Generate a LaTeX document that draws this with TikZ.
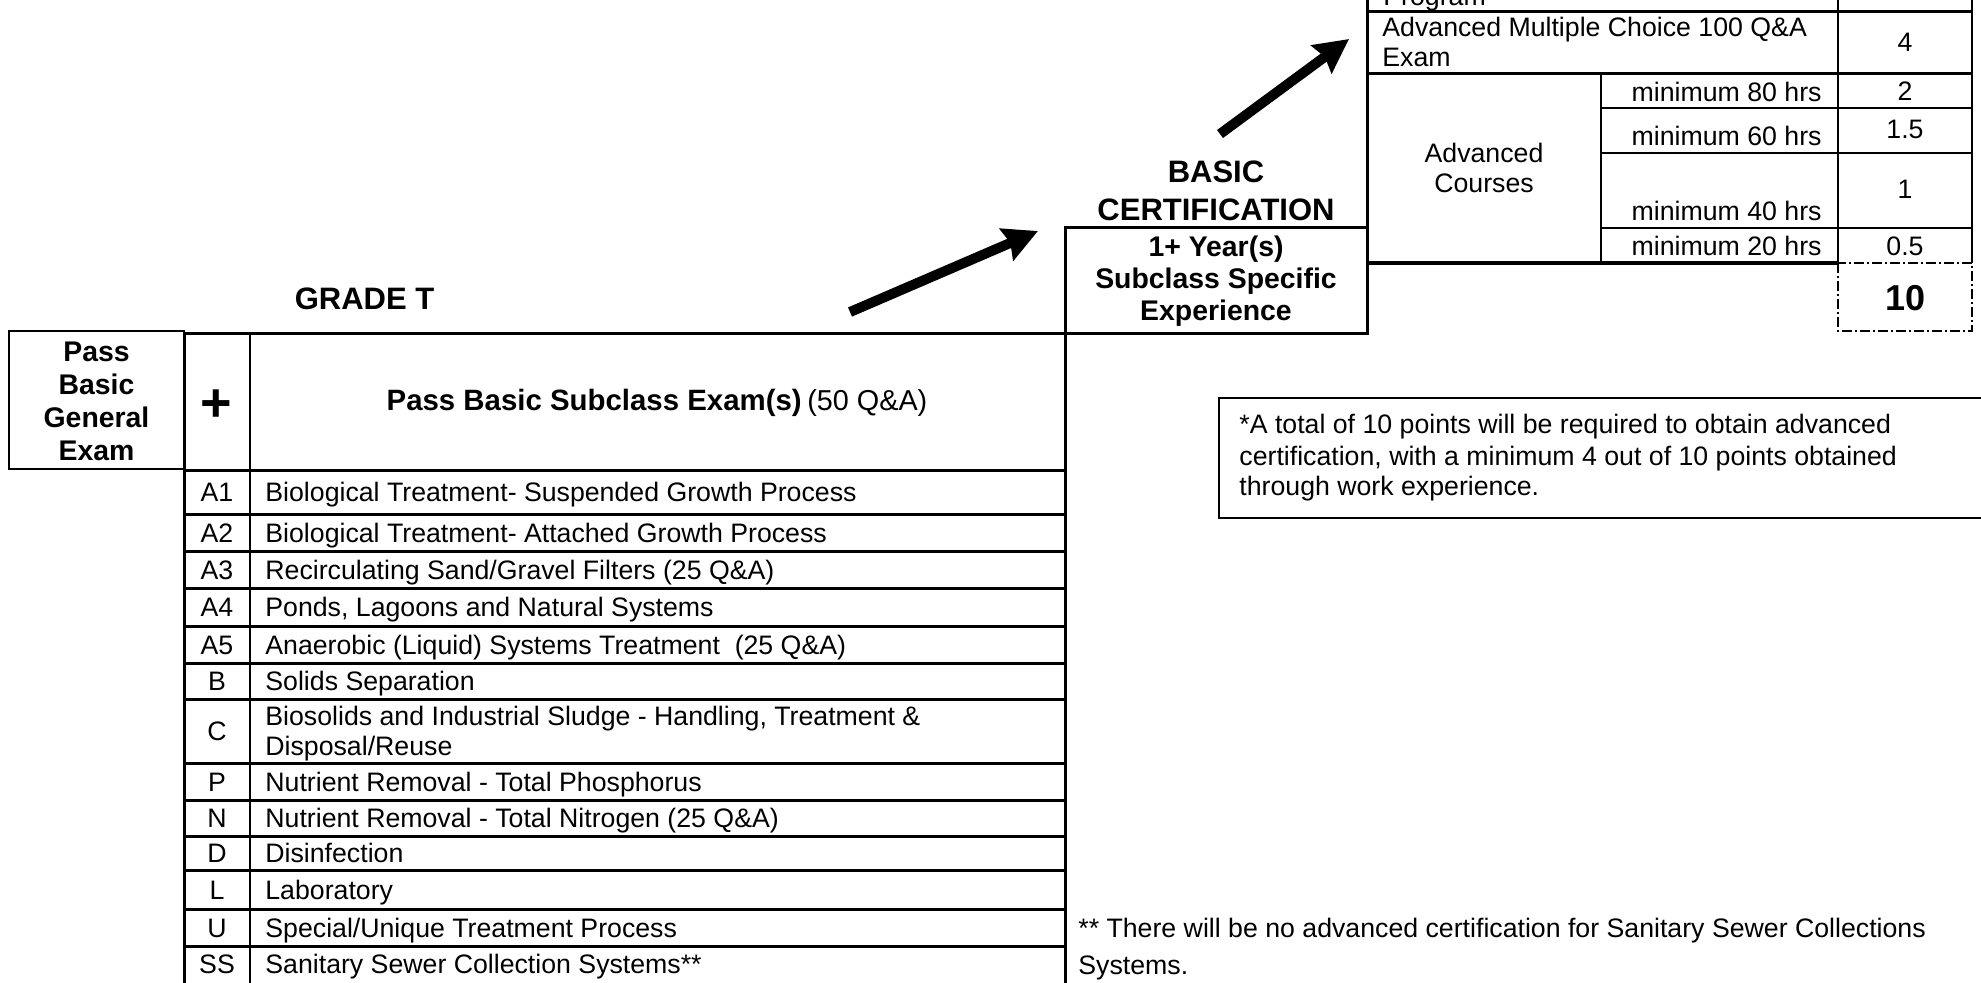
\documentclass[tikz,border=0pt]{standalone}
\usepackage{fontspec}
\setmainfont{Liberation Sans}
\usetikzlibrary{arrows.meta}
\tikzset{
  tl/.style={line width=1.5pt},
  bl/.style={line width=1pt},
  txt/.style={inner sep=0pt, font=\fontsize{13.35}{15.4}\selectfont},
  btxt/.style={inner sep=0pt, font=\fontsize{14.2}{16.4}\selectfont\bfseries},
  ttl/.style={inner sep=0pt, font=\fontsize{15.5}{18}\selectfont\bfseries},
  bigarrow/.style={line width=5pt, -{Stealth[length=17pt,width=17pt,inset=2pt]}},
  dashdotbox/.style={line width=1pt, dash pattern=on 5pt off 1.5pt on 1pt off 1.5pt},
}
\begin{document}
\begin{tikzpicture}[x=0.5pt,y=-0.5pt]
\useasboundingbox (0,0) rectangle (1981,982);
\fill[white] (0,0) rectangle (1981,982);

% ---------- Pass Basic General Exam box
\draw[bl] (9,331) rectangle (184,469);
\node[btxt, anchor=base] (pass1) at (96.5,361) {Pass};
\node[btxt, anchor=base] (pass2) at (96.5,394) {Basic};
\node[btxt, anchor=base] (pass3) at (96.5,427) {General};
\node[btxt, anchor=base] (pass4) at (96.5,460) {Exam};

% ---------- main table
\draw[tl] (184,333) -- (1367,333);
\draw[tl] (184,470) -- (1065,470);
\foreach \yy in {514,551,588,626,663,699,763,800,836,870,909,946}
  \draw[tl] (184,\yy) -- (1065,\yy);
\draw[tl] (184,333) -- (184,990);
\draw[bl] (250,333) -- (250,990);
\draw[tl] (1065,227) -- (1065,990);

\node[inner sep=0pt, font=\fontsize{27}{28}\selectfont\bfseries] (plus) at (216,406) {+};
\node[inner sep=0pt, anchor=base] (hdr) at (657,410)
  {{\fontsize{14.7}{17}\selectfont\bfseries Pass Basic Subclass Exam(s)} {\fontsize{14.4}{16}\selectfont (50 Q\&A)}};

\node[txt, anchor=base] (ca1) at (217,501.5) {A1};
\node[txt, anchor=base west] (ta1) at (265,501.5) {Biological Treatment- Suspended Growth Process};
\node[txt, anchor=base] (ca2) at (217,542) {A2};
\node[txt, anchor=base west] (ta2) at (265,542) {Biological Treatment- Attached Growth Process};
\node[txt, anchor=base] (ca3) at (217,579) {A3};
\node[txt, anchor=base west] (ta3) at (265,579) {Recirculating Sand/Gravel Filters (25 Q\&A)};
\node[txt, anchor=base] (ca4) at (217,616.5) {A4};
\node[txt, anchor=base west] (ta4) at (265,616.5) {Ponds, Lagoons and Natural Systems};
\node[txt, anchor=base] (ca5) at (217,654) {A5};
\node[txt, anchor=base west] (ta5) at (265,654) {Anaerobic (Liquid) Systems Treatment\ \ (25 Q\&A)};
\node[txt, anchor=base] (cb) at (217,690.5) {B};
\node[txt, anchor=base west] (tb) at (265,690.5) {Solids Separation};
\node[txt, anchor=base] (cc) at (217,740.5) {C};
\node[txt, anchor=base west] (tc1) at (265,725.5) {Biosolids and Industrial Sludge - Handling, Treatment \&};
\node[txt, anchor=base west] (tc2) at (265,755.5) {Disposal/Reuse};
\node[txt, anchor=base] (cp) at (217,791) {P};
\node[txt, anchor=base west] (tp) at (265,791) {Nutrient Removal - Total Phosphorus};
\node[txt, anchor=base] (cn) at (217,827.5) {N};
\node[txt, anchor=base west] (tn) at (265,827.5) {Nutrient Removal - Total Nitrogen (25 Q\&A)};
\node[txt, anchor=base] (cd) at (217,862.5) {D};
\node[txt, anchor=base west] (td) at (265,862.5) {Disinfection};
\node[txt, anchor=base] (cl) at (217,899) {L};
\node[txt, anchor=base west] (tl1) at (265,899) {Laboratory};
\node[txt, anchor=base] (cu) at (217,937) {U};
\node[txt, anchor=base west] (tu) at (265,937) {Special/Unique Treatment Process};
\node[txt, anchor=base] (css) at (217,973.5) {SS};
\node[txt, anchor=base west] (tss) at (265,973.5) {Sanitary Sewer Collection Systems**};

% ---------- GRADE T
\node[ttl, anchor=base] (grade) at (364.5,309) {GRADE T};

% ---------- Basic certification / experience
\node[ttl, anchor=base] (basic) at (1216,182.5) {BASIC};
\node[ttl, anchor=base] (cert) at (1216,220) {CERTIFICATION};
\draw[tl] (1065,227) rectangle (1367,333);
\node[btxt, anchor=base] (exp1) at (1216,256) {1+ Year(s)};
\node[btxt, anchor=base] (exp2) at (1216,288.5) {Subclass Specific};
\node[btxt, anchor=base] (exp3) at (1216,320.5) {Experience};

% ---------- advanced table
\draw[tl] (1367,-10) -- (1367,333);
\draw[bl] (1838,-10) -- (1838,263);
\draw[bl] (1972,-10) -- (1972,263);
\draw[bl] (1601,73) -- (1601,263);
\draw[tl] (1367,11) -- (1972,11);
\draw[tl] (1367,73) -- (1972,73);
\draw[bl] (1601,108) -- (1972,108);
\draw[bl] (1601,153) -- (1972,153);
\draw[bl] (1601,228) -- (1972,228);
\draw[line width=2pt] (1367,263) -- (1838,263);
\draw[dashdotbox] (1838,263) rectangle (1972,331);

\node[txt, anchor=base west] (prog) at (1383,5) {Program};
\node[txt, anchor=base west] (amc1) at (1382,36.5) {Advanced Multiple Choice 100 Q\&A};
\node[txt, anchor=base west] (amc2) at (1382,66) {Exam};
\node[txt, anchor=base] (p4) at (1905,51.7) {4};
\node[txt, anchor=base] (advc1) at (1484,162.7) {Advanced};
\node[txt, anchor=base] (advc2) at (1484,192.7) {Courses};
\node[txt, anchor=base east] (m80) at (1822,101) {minimum 80 hrs};
\node[txt, anchor=base] (p2) at (1905,100) {2};
\node[txt, anchor=base east] (m60) at (1822,145) {minimum 60 hrs};
\node[txt, anchor=base] (p15) at (1905,138) {1.5};
\node[txt, anchor=base east] (m40) at (1822,220) {minimum 40 hrs};
\node[txt, anchor=base] (p1) at (1905,198) {1};
\node[txt, anchor=base east] (m20) at (1822,255) {minimum 20 hrs};
\node[txt, anchor=base] (p05) at (1905,255) {0.5};
\node[inner sep=0pt, font=\fontsize{18}{21}\selectfont\bfseries, anchor=base] (tot) at (1905,310) {10};

% ---------- note box
\draw[bl] (1219,398) rectangle (2010,518);
\node[txt, anchor=base west] (note1) at (1239,433.3) {*A total of 10 points will be required to obtain advanced};
\node[txt, anchor=base west] (note2) at (1239,465) {certification, with a minimum 4 out of 10 points obtained};
\node[txt, anchor=base west] (note3) at (1239,495) {through work experience.};

% ---------- footnote
\node[txt, anchor=base west] (foot1) at (1078,937) {** There will be no advanced certification for Sanitary Sewer Collections};
\node[txt, anchor=base west] (foot2) at (1078,974) {Systems.};

% ---------- arrows
\coordinate (a1s) at (850,312);
\coordinate (a1e) at (1038,231);
\draw[bigarrow] (a1s) -- (a1e);
\coordinate (a2s) at (1220,134);
\coordinate (a2e) at (1349,39);
\draw[bigarrow] (a2s) -- (a2e);
\end{tikzpicture}
\end{document}
